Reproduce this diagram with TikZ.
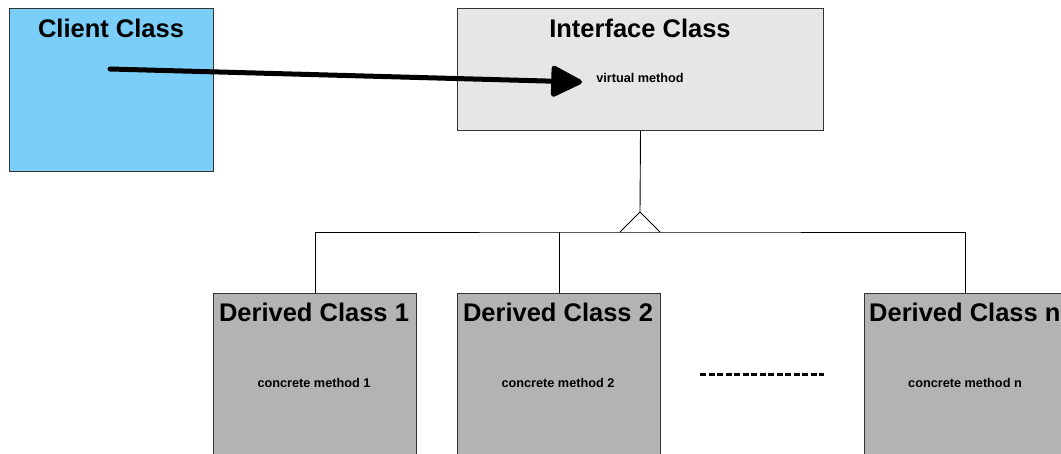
\documentclass[tikz,border=0pt]{standalone}
\usepackage{fontspec}
\setmainfont{Liberation Sans}
\usetikzlibrary{arrows.meta,calc}
\definecolor{clientblue}{HTML}{7ACEF8}
\definecolor{ifacegray}{HTML}{E6E6E6}
\definecolor{derivgray}{HTML}{B3B3B3}
\definecolor{edgegray}{HTML}{333333}
\tikzset{
  classbox/.style={draw=edgegray, line width=1pt, anchor=north west, inner sep=0pt},
  title/.style={font=\fontsize{25.5}{28}\selectfont\bfseries, anchor=center, inner sep=0pt},
  method/.style={font=\fontsize{12.7}{14}\selectfont\bfseries, anchor=center, inner sep=0pt},
  link/.style={draw=black, line width=0.9pt},
}
\begin{document}
\begin{tikzpicture}[x=1pt,y=-1pt]
\useasboundingbox (0,0) rectangle (1061,454);
\clip (0,0) rectangle (1061,454);
% boxes
\node[classbox, fill=clientblue, minimum width=204pt, minimum height=163pt] (client) at (9,8) {};
\node[classbox, fill=ifacegray, minimum width=366pt, minimum height=122pt] (iface) at (457,8) {};
\node[classbox, fill=derivgray, minimum width=203pt, minimum height=180pt] (d1) at (213,293) {};
\node[classbox, fill=derivgray, minimum width=203pt, minimum height=180pt] (d2) at (457,293) {};
\node[classbox, fill=derivgray, minimum width=210pt, minimum height=180pt] (dn) at (864,293) {};
% titles
\node[title] (tclient) at (111,28) {Client Class};
\node[title] (tiface) at (640,28) {Interface Class};
\node[title] (td1) at (314,312) {Derived Class 1};
\node[title] (td2) at (558,312) {Derived Class 2};
\node[title, anchor=west] (tdn) at (869,312) {Derived Class n};
% methods
\node[method] (vm) at (640,78) {virtual method};
\node[method] (cm1) at (314,383) {concrete method 1};
\node[method] (cm2) at (558,383) {concrete method 2};
\node[method] (cmn) at (965,383) {concrete method n};
% call arrow
\coordinate (start) at (110,69);
\coordinate (tip) at (582,82);
\draw[line width=5pt, line cap=round, -{Triangle[length=34pt,width=33pt,round]}] (start) -- (tip);
% inheritance
\coordinate (apex) at (640,212);
\coordinate (bus) at (640,232);
\draw[link] (iface.south) -- (apex);
\draw[link] (apex) -- (620,232) (apex) -- (660,232);
\draw[link] (d1.north) |- (bus) -| (dn.north west -| cmn);
\draw[link] (d2.north) -- (d2.north |- bus);
% ellipsis
\coordinate (e1) at (700,375);
\coordinate (e2) at (824,375);
\draw[line width=3pt, dash pattern=on 6pt off 2.5pt] (e1) -- (e2);
\end{tikzpicture}
\end{document}
